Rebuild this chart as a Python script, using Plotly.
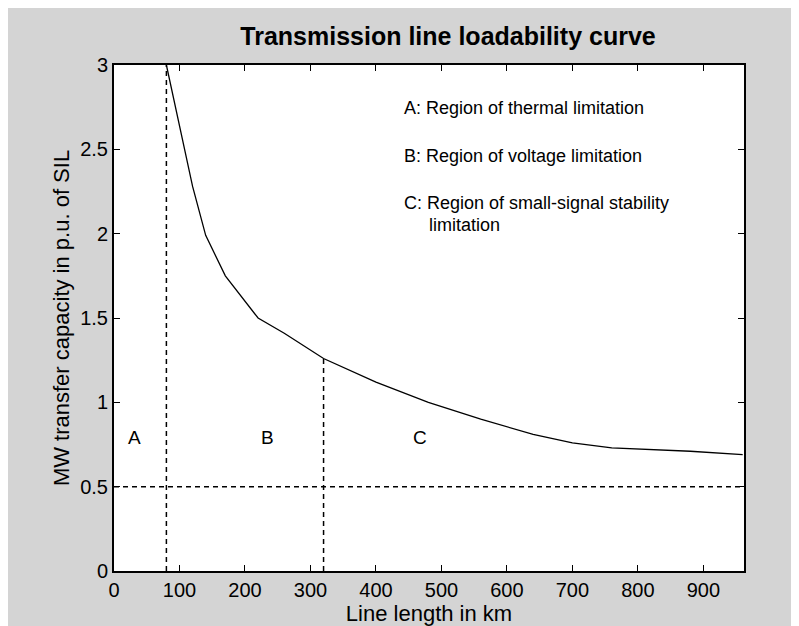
import plotly.graph_objects as go

# Loadability curve
length_km = [80, 100, 120, 140, 170, 220, 260, 320, 400, 480, 560, 640, 700, 760, 880, 960]
capacity_pu = [3.0, 2.65, 2.28, 1.99, 1.75, 1.5, 1.41, 1.26, 1.12, 1.0, 0.90, 0.81, 0.76, 0.73, 0.71, 0.69]

# Region boundaries
thermal_limit_km = 80
voltage_limit_km = 320
voltage_limit_pu = 1.26
stability_floor_pu = 0.5

# Region labels
region_letters = ["A", "B", "C"]
region_letter_x = [32, 235, 467]
region_letter_y = 0.79

legend_lines = [
    "A: Region of thermal limitation",
    "B: Region of voltage limitation",
    "C: Region of small-signal stability",
]
legend_y = [2.745, 2.46, 2.18]
legend_x = 440
legend_cont = "limitation"
legend_cont_x = 478
legend_cont_y = 2.05

x_ticks = [0, 100, 200, 300, 400, 500, 600, 700, 800, 900]
y_ticks = [0, 0.5, 1, 1.5, 2, 2.5, 3]
y_tick_text = ["0", "0.5", "1", "1.5", "2", "2.5", "3"]

FONT = "Arial, Liberation Sans, sans-serif"
dash = "5px,4px"

fig = go.Figure()

fig.add_trace(go.Scatter(x=[thermal_limit_km, thermal_limit_km], y=[0, 3], mode="lines",
                         line=dict(color="black", width=1.5, dash=dash), showlegend=False))
fig.add_trace(go.Scatter(x=[voltage_limit_km, voltage_limit_km], y=[0, voltage_limit_pu], mode="lines",
                         line=dict(color="black", width=1.5, dash=dash), showlegend=False))
fig.add_trace(go.Scatter(x=[0, 960], y=[stability_floor_pu, stability_floor_pu], mode="lines",
                         line=dict(color="black", width=1.5, dash=dash), showlegend=False))
fig.add_trace(go.Scatter(x=length_km, y=capacity_pu, mode="lines",
                         line=dict(color="black", width=1.3), showlegend=False))

for t, xv in zip(region_letters, region_letter_x):
    fig.add_annotation(x=xv, y=region_letter_y, text=t, showarrow=False,
                       font=dict(family=FONT, size=19, color="black"))

for t, yv in zip(legend_lines, legend_y):
    fig.add_annotation(x=legend_x, y=yv, text=t, showarrow=False, xanchor="left",
                       font=dict(family=FONT, size=18, color="black"))
fig.add_annotation(x=legend_cont_x, y=legend_cont_y, text=legend_cont, showarrow=False,
                   xanchor="left", font=dict(family=FONT, size=18, color="black"))

axis_common = dict(showgrid=False, zeroline=False, showline=True, linecolor="black", linewidth=2,
                   mirror="allticks", ticks="inside", ticklen=6, tickwidth=1.2, tickcolor="black",
                   tickfont=dict(family=FONT, size=20, color="black"))

fig.update_xaxes(range=[0, 962], tickvals=x_ticks, ticktext=[str(v) for v in x_ticks],
                 title=dict(text="Line length in km", font=dict(family=FONT, size=22, color="black"),
                            standoff=4),
                 **axis_common)
fig.update_yaxes(range=[0, 3], tickvals=y_ticks, ticktext=y_tick_text,
                 title=dict(text="MW transfer capacity in p.u. of SIL",
                            font=dict(family=FONT, size=22, color="black"), standoff=4),
                 **axis_common)

fig.update_layout(
    width=799, height=626,
    margin=dict(l=106, r=63, t=57, b=63),
    paper_bgcolor="#d4d4d4", plot_bgcolor="white",
    title=dict(text="<b>Transmission line loadability curve</b>", x=440 / 799, xanchor="center",
               y=1 - 28 / 626, yanchor="middle",
               font=dict(family=FONT, size=25, color="black")),
)

fig.write_html("out.html")
